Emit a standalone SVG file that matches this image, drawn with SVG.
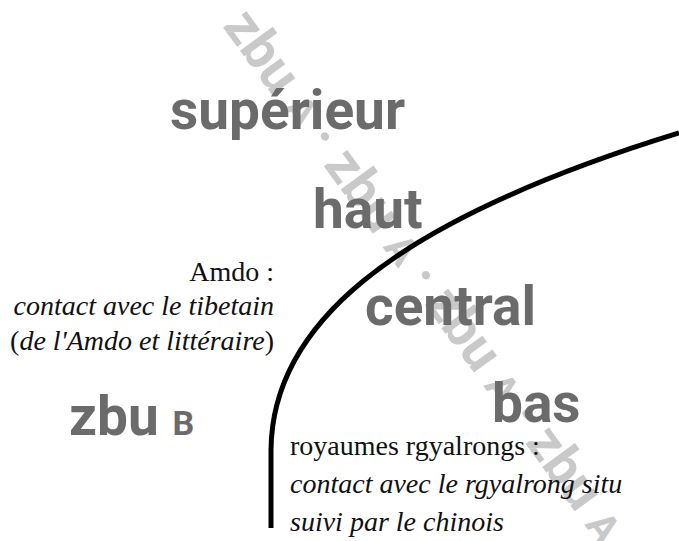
<svg xmlns="http://www.w3.org/2000/svg" width="679" height="541" viewBox="0 0 679 541">
<style>
.lab{font-family:Roboto,"DejaVu Sans",sans-serif;font-weight:700;font-size:55px;fill:#6b6b6b}
.diag{font-family:Roboto,"DejaVu Sans",sans-serif;font-weight:700;font-size:54px;fill:#c9c9c9}
.sc{font-size:40px}
.ser{font-family:"Liberation Serif","Times New Roman",serif;font-size:28px;fill:#111}
.it{font-style:italic}
.up{font-style:normal}
</style>
<rect width="679" height="541" fill="#fff"/>
<g id="zbuA-band">
<text class="diag" transform="translate(222,26) rotate(54)">zbu <tspan class="sc">A</tspan> · zbu <tspan class="sc">A</tspan> · zbu <tspan class="sc">A</tspan> · zbu <tspan class="sc">A</tspan></text>
</g>
<g id="connectors">
<path d="M271 528 L271 450 C272 330 380 225 679 133" fill="none" stroke="#000" stroke-width="5"/>
</g>
<g id="superieur"><text class="lab" x="170" y="129">supérieur</text></g>
<g id="haut"><text class="lab" x="313" y="228">haut</text></g>
<g id="central"><text class="lab" x="365" y="325">central</text></g>
<g id="bas"><text class="lab" x="492" y="422">bas</text></g>
<g id="zbuB"><text class="lab" x="69" y="435">zbu <tspan font-size="34">B</tspan></text></g>
<g id="amdo">
<text class="ser" text-anchor="end" x="274" y="281">Amdo :</text>
<text class="ser it" text-anchor="end" x="274" y="315">contact avec le tibetain</text>
<text class="ser" text-anchor="end" x="274" y="350"><tspan class="up">(</tspan><tspan class="it">de l'Amdo et littéraire</tspan><tspan class="up">)</tspan></text>
</g>
<g id="rgyalrong">
<text class="ser" x="290" y="455">royaumes rgyalrongs :</text>
<text class="ser it" x="290" y="493">contact avec le rgyalrong situ</text>
<text class="ser it" x="290" y="531">suivi par le chinois</text>
</g>
</svg>
